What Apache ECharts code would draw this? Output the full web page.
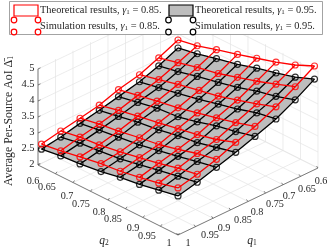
<!DOCTYPE html>
<html><head><meta charset="utf-8">
<style>html,body{margin:0;padding:0;background:#fff}#c{width:332px;height:249px}</style>
<script src="https://cdn.jsdelivr.net/npm/echarts@6/dist/echarts.min.js"></script>
</head><body><div id="c"></div>
<script>
var q1Grid = [1, 0.945, 0.89, 0.835, 0.78, 0.72, 0.665, 0.61];
var q2Grid = [0.61, 0.665, 0.72, 0.78, 0.835, 0.89, 0.945, 1];
var gamma85 = [
 [2.71,2.80,2.91,3.03,3.09,3.20,3.32,3.47],
 [2.83,2.94,3.00,3.11,3.23,3.35,3.50,3.61],
 [2.94,3.06,3.14,3.26,3.35,3.50,3.67,3.79],
 [3.06,3.20,3.32,3.44,3.56,3.67,3.82,4.03],
 [3.26,3.38,3.50,3.62,3.76,3.91,4.06,4.24],
 [3.41,3.56,3.71,3.85,3.97,4.15,4.33,4.54],
 [3.65,3.80,3.95,4.09,4.27,4.45,4.66,4.88],
 [3.92,4.04,4.22,4.40,4.58,4.76,4.97,5.24]];
var gamma95 = [
 [2.55,2.64,2.69,2.78,2.90,2.98,3.10,3.22],
 [2.64,2.75,2.81,2.89,3.01,3.13,3.25,3.36],
 [2.78,2.87,2.95,3.04,3.16,3.28,3.42,3.54],
 [2.90,3.01,3.13,3.22,3.34,3.42,3.57,3.72],
 [3.04,3.16,3.28,3.34,3.48,3.66,3.78,3.93],
 [3.19,3.31,3.43,3.57,3.72,3.87,4.05,4.16],
 [3.40,3.52,3.67,3.81,3.96,4.14,4.28,4.47],
 [3.67,3.79,3.94,4.09,4.27,4.42,4.59,4.83]];
var qTicks = [0.6,0.65,0.7,0.75,0.8,0.85,0.9,0.95,1];
var qTickLabels = ['0.6','0.65','0.7','0.75','0.8','0.85','0.9','0.95','1'];
var zTicks = [2,2.5,3,3.5,4,4.5,5];
var zTickLabels = ['2','2.5','3','3.5','4','4.5','5'];
var legendTexts = [['Theoretical results, ','0.85'],['Simulation results, ','0.85'],['Theoretical results, ','0.95'],['Simulation results, ','0.95']];

var RED='#ff0000', BLK='#000', TXT='#262626', GRID='#e4e4e4', FONT='"Liberation Serif"';
function P(q1,q2,z){return [38+350*(q2-0.6)+350*(1-q1), 165+175*(q2-0.6)-167.5*(1-q1)-32*(z-2)];}

var series=[];
function segSeries(segs,color,width,z){
  series.push({type:'custom',coordinateSystem:'cartesian2d',silent:true,z:z,clip:false,
    data:segs.map(function(s,i){return [s[0][0],s[0][1],s[1][0],s[1][1]];}),
    encode:{x:[0,2],y:[1,3]},
    renderItem:function(p,api){
      var a=api.coord([api.value(0),api.value(1)]),b=api.coord([api.value(2),api.value(3)]);
      return {type:'line',shape:{x1:a[0],y1:a[1],x2:b[0],y2:b[1]},style:{stroke:color,lineWidth:width,fill:null}};
    }});
}
var gridSegs=[],axisSegs=[];
qTicks.forEach(function(q){
  gridSegs.push([P(q,0.6,2),P(q,1,2)]);      // floor
  gridSegs.push([P(1,q,2),P(0.6,q,2)]);      // floor
  gridSegs.push([P(q,0.6,2),P(q,0.6,5.05)]); // back-left wall
  gridSegs.push([P(0.6,q,2),P(0.6,q,5.05)]); // back-right wall
});
zTicks.forEach(function(z){
  gridSegs.push([P(1,0.6,z),P(0.6,0.6,z)]);
  gridSegs.push([P(0.6,0.6,z),P(0.6,1,z)]);
  var a=P(1,0.6,z); axisSegs.push([a,[a[0]+2.5,a[1]-1.2]]);
});
qTicks.forEach(function(q){
  var a=P(1,q,2); axisSegs.push([a,[a[0]+1.5,a[1]-2]]);
  var b=P(q,1,2); axisSegs.push([b,[b[0]-1.5,b[1]-2]]);
});
axisSegs.push([P(1,0.6,2),P(1,0.6,5)]);
axisSegs.push([P(1,0.6,2),P(1,1,2)]);
axisSegs.push([P(1,1,2),P(0.6,1,2)]);
segSeries(gridSegs,GRID,0.7,1);
segSeries(axisSegs,'#4a4a4a',0.7,2);

// gray surface patches
var cells=[];
for(var j=0;j<7;j++)for(var i=0;i<7;i++)cells.push([j,i]);
series.push({type:'custom',coordinateSystem:'cartesian2d',silent:true,z:3,clip:false,data:cells,
  renderItem:function(p,api){
    var j=api.value(0),i=api.value(1);
    var pts=[[j,i],[j+1,i],[j+1,i+1],[j,i+1]].map(function(c){
      return api.coord(P(q1Grid[c[0]],q2Grid[c[1]],gamma95[c[0]][c[1]]));});
    return {type:'polygon',shape:{points:pts},style:{fill:'#bdbdbd',stroke:'#bdbdbd',lineWidth:0.3}};
  }});

function mesh(table,color,z){
  var pts=[];
  for(var j=0;j<8;j++){
    var row=[],col=[];
    for(var i=0;i<8;i++){
      row.push(P(q1Grid[j],q2Grid[i],table[j][i]));
      col.push(P(q1Grid[i],q2Grid[j],table[i][j]));
      pts.push(row[i]);
    }
    [row,col].forEach(function(d){
      series.push({type:'line',data:d,showSymbol:false,symbol:'none',silent:true,z:z,clip:false,
        lineStyle:{color:color,width:1.3},animation:false});
    });
  }
  series.push({type:'scatter',data:pts,symbol:'circle',symbolSize:6,silent:true,z:z,clip:false,
    itemStyle:{color:'rgba(0,0,0,0)',borderColor:color,borderWidth:1.2}});
}
mesh(gamma95,BLK,4);
mesh(gamma85,RED,5);

// tick labels
function textSeries(items,z){
  series.push({type:'custom',coordinateSystem:'cartesian2d',silent:true,z:z||6,clip:false,
    data:items.map(function(t,i){return [t.pos[0],t.pos[1],i];}),
    renderItem:function(p,api){
      var t=items[api.value(2)],c=api.coord([api.value(0),api.value(1)]);
      return {type:'text',x:c[0],y:c[1],rotation:t.rot||0,style:{text:t.text,align:t.align||'center',verticalAlign:'middle',
        font:(t.size||10.2)+'px '+FONT,fill:t.fill||TXT,rich:t.rich}};
    }});
}
var q2Off=[[-5,16],[-8.5,14],[-6,13.5],[-9.5,13],[-9,12],[-12.5,11],[-10,10.5],[-13.5,10],[-9,8]];
var q1Off=[[3,13],[6.5,13],[6,12],[9.5,11.5],[9,11],[12.5,10.5],[11,10],[14.5,8.5],[10,8]];
var labels=[];
qTicks.forEach(function(q,k){
  var a=P(1,q,2); labels.push({text:qTickLabels[k],pos:[a[0]+q2Off[k][0],a[1]+q2Off[k][1]]});
  var b=P(q,1,2); labels.push({text:qTickLabels[k],pos:[b[0]+q1Off[k][0],b[1]+q1Off[k][1]]});
});
zTicks.forEach(function(z,k){
  var a=P(1,0.6,z); labels.push({text:zTickLabels[k],pos:[a[0]-3.5,a[1]-0.5],align:'right',size:10.5});
});
var subRich={i:{fontFamily:FONT,fontStyle:'italic',fontSize:11.5,color:TXT},s:{fontFamily:FONT,fontSize:7.5,color:TXT,padding:[5,0,0,0]},d:{fontFamily:FONT,fontSize:11.8,color:TXT}};
labels.push({text:'{i|q}{s|2}',pos:[104,241],rich:subRich});
labels.push({text:'{i|q}{s|1}',pos:[252,241],rich:subRich});
labels.push({text:'{d|Average Per-Source AoI Δ\u0304}{s|1}',pos:[9,121],rot:Math.PI/2,rich:subRich});
textSeries(labels);

// legend, drawn above everything
var leg=[];
leg.push({type:'rect',shape:{x:9.5,y:1.5,width:313,height:33},style:{fill:'#fff',stroke:'#8c8c8c',lineWidth:0.8},z:20});
leg.push({type:'rect',shape:{x:14,y:5,width:24,height:11},style:{fill:'#fff',stroke:RED,lineWidth:1.2},z:21});
leg.push({type:'rect',shape:{x:169,y:5,width:24,height:11},style:{fill:'#bdbdbd',stroke:BLK,lineWidth:1.2},z:21});
[[14,RED],[38,RED],[168.5,BLK],[193,BLK]].forEach(function(c){
  [20,32].forEach(function(y){
    leg.push({type:'circle',shape:{cx:c[0],cy:y,r:2.8},style:{fill:'#fff',stroke:c[1],lineWidth:1.2},z:21});
  });
});
[[40,10],[40,26],[195,10],[195,26]].forEach(function(p,k){
  leg.push({type:'text',x:p[0],y:p[1],z:22,style:{
    text:'{d|'+legendTexts[k][0]+'}{g|γ}{s|1}{d| = '+legendTexts[k][1]+'.}',
    verticalAlign:'middle',fill:TXT,
    rich:{d:{fontFamily:FONT,fontSize:10.4,fill:TXT},g:{fontFamily:FONT,fontStyle:'italic',fontSize:10.4,fill:TXT},s:{fontFamily:FONT,fontSize:7,fill:TXT,padding:[4,0,0,0]}}}});
});

var chart=echarts.init(document.getElementById('c'),null,{renderer:'canvas'});
chart.setOption({animation:false,backgroundColor:'#fff',
  grid:{left:0,right:0,top:0,bottom:0,containLabel:false},
  xAxis:{type:'value',min:0,max:332,show:false},
  yAxis:{type:'value',min:0,max:249,inverse:true,show:false},
  graphic:{elements:leg},
  series:series});
</script></body></html>
